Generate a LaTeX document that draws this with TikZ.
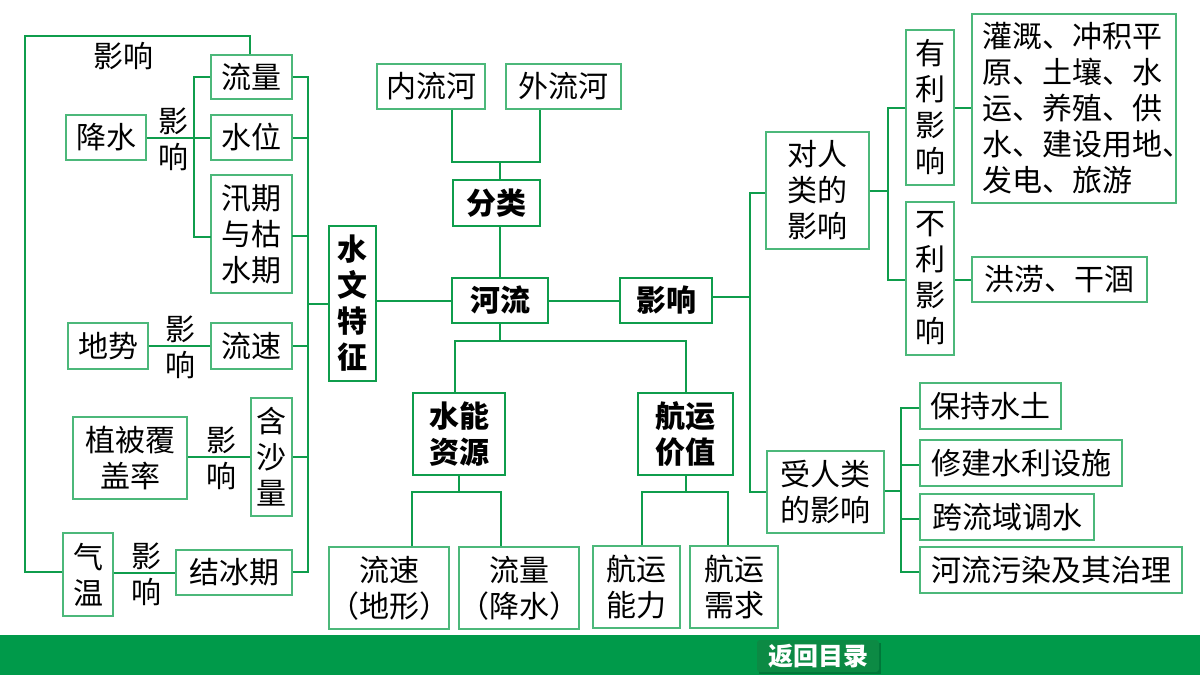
\documentclass[tikz,border=0pt]{standalone}
\usepackage{fontspec}
\setmainfont{Noto Sans CJK SC}
\definecolor{gline}{HTML}{0F9D4C}
\definecolor{gbox}{HTML}{4CB87A}
\definecolor{gbar}{HTML}{009A4A}
\definecolor{gbtn}{HTML}{0C8A44}
\tikzset{
  lbl/.style={font=\fontsize{30}{36}\selectfont,align=center,inner sep=0pt,text=black},
  thinbox/.style={lbl,draw=gbox,line width=1.3pt,rectangle},
  boldbox/.style={lbl,draw=gline,line width=2.4pt,rectangle,font=\fontsize{30}{36}\selectfont\bfseries},
  conn/.style={draw=gline,line width=2pt},
}
\newcommand{\bx}[8][thinbox]{% style, name, x1,y1,x2,y2, align, text
  \node[#1,minimum width=#5pt-#3pt,minimum height=#6pt-#4pt,#7] (#2) at ({(#3+#5)/2},{(#4+#6)/2}) {#8};}
\begin{document}
\begin{tikzpicture}[x=1pt,y=-1pt]
\useasboundingbox (0,0) rectangle (1200,675);
\fill[white] (0,0) rectangle (1200,675);
\fill[gbar] (0,635) rectangle (1200,675);
\fill[black!45!gbar,opacity=.5] (759,643) rectangle (881,674);
\node[fill=gbtn,rounded corners=3pt,minimum width=122pt,minimum height=32pt,inner sep=0pt,text=white,font=\fontsize{25}{28}\selectfont\bfseries] (btn) at (818,656) {返回目录};
% left
\bx{fl}{211}{55}{292}{99}{}{流量}
\bx{sw}{211}{115}{292}{160}{}{水位}
\bx{xq}{211}{175}{292}{293}{}{汛期\\与枯\\水期}
\bx{js}{66}{115}{146}{160}{}{降水}
\bx{ds}{68}{323}{148}{369}{}{地势}
\bx{ls}{211}{323}{292}{369}{}{流速}
\bx{zb}{73}{417}{187}{499}{}{植被覆\\盖率}
\bx{hs}{251}{398}{292}{516}{}{含\\沙\\量}
\bx{qw}{63}{533}{113}{616}{}{气\\温}
\bx{jb}{176}{550}{292}{595}{}{结冰期}
\bx[boldbox]{wt}{329}{226}{376}{381}{}{水\\文\\特\\征}
% centre
\bx{nl}{377}{64}{485}{109}{}{内流河}
\bx{wl}{506}{64}{621}{109}{}{外流河}
\bx[boldbox]{fn}{453}{180}{540}{226}{}{分类}
\bx[boldbox]{hl}{452}{278}{548}{323}{}{河流}
\bx[boldbox]{yx}{620}{278}{712}{323}{}{影响}
\bx[boldbox]{sn}{413}{393}{505}{475}{}{水能\\资源}
\bx[boldbox]{hy}{638}{393}{733}{475}{}{航运\\价值}
\bx{a1}{329}{547}{449}{629}{}{流速\\（地形）}
\bx{a2}{459}{547}{579}{629}{}{流量\\（降水）}
\bx{a3}{593}{546}{680}{628}{}{航运\\能力}
\bx{a4}{690}{546}{778}{628}{}{航运\\需求}
% right
\bx{dr}{766}{132}{869}{249}{}{对人\\类的\\影响}
\bx{sr}{767}{451}{884}{533}{}{受人类\\的影响}
\bx{yl}{906}{30}{954}{185}{}{有\\利\\影\\响}
\bx{bl}{906}{202}{954}{355}{}{不\\利\\影\\响}
\bx{gg}{972}{14}{1176}{203}{}{}
\node[lbl,align=left,anchor=west] (ggt) at (982,108) {灌溉、冲积平\\原、土壤、水\\运、养殖、供\\水、建设用地、\\发电、旅游};
\bx{hl2}{972}{257}{1147}{302}{}{洪涝、干涸}
\bx{r1}{920}{383}{1061}{429}{}{保持水土}
\bx{r2}{920}{440}{1122}{486}{}{修建水利设施}
\bx{r3}{920}{494}{1094}{540}{}{跨流域调水}
\bx{r4}{920}{547}{1182}{593}{}{河流污染及其治理}
% free labels
\node[lbl] (t1) at (123,56) {影响};
\node[lbl] (t2) at (173,139) {影\\响};
\node[lbl] (t3) at (180,347) {影\\响};
\node[lbl] (t4) at (221,458) {影\\响};
\node[lbl] (t5) at (146,574) {影\\响};
% bus coordinates
\coordinate (lp) at (25,36);
\coordinate (bus) at (308,77);
\coordinate (busb) at (308,572);
\coordinate (vl) at (193.5,77);
\coordinate (cl) at (500,162);
\coordinate (cb) at (500,341);
\coordinate (sb) at (459,492);
\coordinate (hb) at (686,492);
\coordinate (vy) at (750,297);
\coordinate (vd) at (888,191);
\coordinate (vs) at (901,491);
\coordinate (xqw) at (211,237);
\coordinate (xqe) at (292,236);
% connectors
\draw[conn] ([xshift=-1.5pt]fl.north) -- ([xshift=-1.5pt]fl.north |- lp) -- (lp) -- (lp |- busb) -- (qw.west |- busb);
\draw[conn] (js.east |- sw.west) -- (sw.west);
\draw[conn] (fl.west) -- (vl) -- (vl |- xqw) -- (xqw);
\draw[conn] (fl.east) -- (bus) -- (busb) -- (jb.east |- busb);
\draw[conn] (sw.east) -- (sw.east -| bus);
\draw[conn] (xqe) -- (xqe -| bus);
\draw[conn] (ls.east) -- (ls.east -| bus);
\draw[conn] (hs.east) -- (hs.east -| bus);
\draw[conn] (wt.west) -- (wt.west -| bus);
\draw[conn] (ds.east) -- (ls.west);
\draw[conn] (zb.east |- hs.west) -- (hs.west);
\draw[conn] (qw.east |- jb.west) -- (jb.west);
\draw[conn] (wt.east |- hl.west) -- (hl.west);
\draw[conn] (hl.east) -- (yx.west);
\draw[conn] ([xshift=21pt]nl.south) -- ([xshift=21pt]nl.south |- cl) -- ([xshift=-23.5pt]wl.south |- cl) -- ([xshift=-23.5pt]wl.south);
\draw[conn] (fn.north -| cl) -- (cl);
\draw[conn] (fn.south -| cl) -- (hl.north -| cl);
\draw[conn] (hl.south -| cb) -- (cb);
\draw[conn] ([xshift=-4pt]sn.north) -- ([xshift=-4pt]sn.north |- cb) -- (hb |- cb) -- (hb |- hy.north);
\draw[conn] (sn.south) -- (sb);
\draw[conn] (hb |- hy.south) -- (hb);
\draw[conn] ([xshift=23pt]a1.north) -- ([xshift=23pt]a1.north |- sb) -- ([xshift=-18pt]a2.north |- sb) -- ([xshift=-18pt]a2.north);
\draw[conn] ([xshift=5.5pt]a3.north) -- ([xshift=5.5pt]a3.north |- hb) -- ([xshift=-6pt]a4.north |- hb) -- ([xshift=-6pt]a4.north);
\draw[conn] ([yshift=3.5pt]yx.east) -- ([yshift=3.5pt]yx.east -| vy);
\draw[conn] ([yshift=-2.5pt]dr.west) -- ([yshift=-2.5pt]dr.west -| vy) -- (sr.west -| vy) -- (sr.west);
\draw[conn] (dr.east |- vd) -- (vd);
\draw[conn] (yl.west) -- (yl.west -| vd) -- ([yshift=-1.5pt]bl.west -| vd) -- ([yshift=-1.5pt]bl.west);
\draw[conn] (yl.east) -- (yl.east -| gg.west);
\draw[conn] ([yshift=-1.5pt]bl.east) -- ([yshift=-1.5pt]bl.east -| hl2.west);
\draw[conn] (sr.east |- vs) -- (vs);
\draw[conn] ([yshift=-1.5pt]r1.west) -- ([yshift=-1.5pt]r1.west -| vs) -- ([yshift=-1.5pt]r4.west -| vs) -- ([yshift=-1.5pt]r4.west);
\draw[conn] ([yshift=-1.5pt]r2.west) -- ([yshift=-1.5pt]r2.west -| vs);
\draw[conn] ([yshift=-1.5pt]r3.west) -- ([yshift=-1.5pt]r3.west -| vs);
\end{tikzpicture}
\end{document}
